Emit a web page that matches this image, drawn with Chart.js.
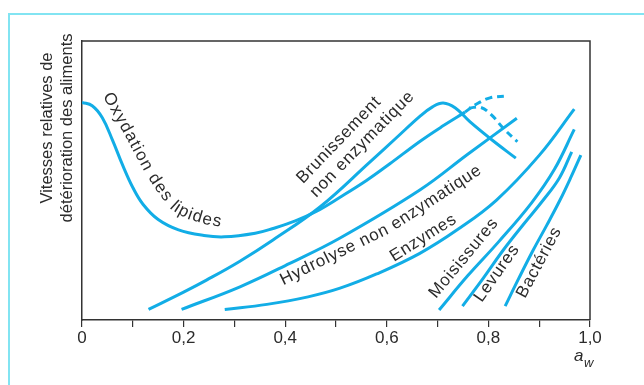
<!DOCTYPE html>
<html lang="fr">
<head>
<meta charset="utf-8">
<title>Vitesses relatives de détérioration des aliments</title>
<script src="https://cdn.jsdelivr.net/npm/chart.js@4/dist/chart.umd.min.js"></script>
<style>
  html, body { margin: 0; padding: 0; background: #fff; }
  canvas { display: block; }
</style>
</head>
<body>
<canvas id="myChart" width="644" height="385"></canvas>
<script>
// graduations de l'axe a_w
const tickLabels = ['0', '0,2', '0,4', '0,6', '0,8', '1,0'];
const yTitle = ['Vitesses relatives de', 'détérioration des aliments'];

// courbes (a_w, vitesse relative 0-100)
const awOxydation = [0, 0.02, 0.04, 0.06, 0.08, 0.10, 0.12, 0.15, 0.19, 0.24, 0.28, 0.341, 0.376, 0.42, 0.462, 0.508, 0.56, 0.606, 0.665, 0.71, 0.754];
const vOxydation  = [78, 76.8, 72.5, 64.5, 55.5, 47.5, 41.5, 36, 32.3, 30.3, 29.8, 31.1, 32.8, 35.5, 39, 44, 50, 56, 64, 69.5, 74.5];

const awOxydationHaut = [0.754, 0.774, 0.803, 0.836];
const vOxydationHaut  = [74.5, 77.1, 79.6, 80.3];

const awOxydationBas = [0.762, 0.785, 0.806, 0.83, 0.857];
const vOxydationBas  = [76, 76.2, 73.5, 68.6, 63.9];

const awBrunissement = [0.131, 0.2, 0.245, 0.31, 0.376, 0.469, 0.566, 0.62, 0.665, 0.69, 0.711, 0.735, 0.764, 0.806, 0.854];
const vBrunissement  = [3.8, 10, 14.3, 21, 28.7, 40.6, 56.5, 65.5, 73, 76.4, 77.8, 76, 71, 64.7, 58];

const awHydrolyse = [0.196, 0.311, 0.409, 0.508, 0.665, 0.76, 0.856];
const vHydrolyse  = [3.8, 11.9, 20.3, 29.4, 46.6, 59.5, 72.3];

const awEnzymes = [0.281, 0.364, 0.445, 0.508, 0.58, 0.665, 0.74, 0.816, 0.9, 0.969];
const vEnzymes  = [3.8, 5.6, 8.3, 11.4, 16.5, 23.9, 32.5, 43, 59, 75.6];

const awMoisissures = [0.703, 0.76, 0.82, 0.885, 0.93, 0.969];
const vMoisissures  = [3.6, 16, 28, 42, 54, 68.3];

const awLevures = [0.749, 0.79, 0.829, 0.87, 0.908, 0.94, 0.964];
const vLevures  = [5, 15, 25, 34.5, 43, 51, 60.3];

const awBacteries = [0.833, 0.86, 0.888, 0.915, 0.941, 0.962, 0.982];
const vBacteries  = [5, 15, 25, 34, 43, 51, 59.1];

const bleu = '#12ade6';
const texte = '#2b2b2b';
const police = '"Liberation Sans", Arial, sans-serif';

function pts(xs, ys) {
  return xs.map((x, i) => ({ x: x, y: ys[i] }));
}

function serie(label, xs, ys, tirets) {
  return {
    label: label,
    data: pts(xs, ys),
    showLine: true,
    borderColor: bleu,
    borderWidth: 3,
    borderDash: tirets ? [7, 5] : [],
    pointRadius: 0,
    fill: false,
    tension: 0.4
  };
}

// étiquettes des courbes : texte posé le long d'un chemin (coordonnées a_w / vitesse)
const etiquettes = [
  { text: 'Oxydation des lipides', espace: 1.2, path: [[0.041, 80.3], [0.085, 65.9], [0.124, 52.7], [0.150, 45.5], [0.175, 39.6], [0.205, 36.4], [0.244, 34.3], [0.287, 33.0]] },
  { text: 'Brunissement', espace: 0.8, path: [[0.435, 48.7], [0.632, 85.9]] },
  { text: 'non enzymatique', espace: 0.8, path: [[0.461, 43.7], [0.667, 82.1]] },
  { text: 'Hydrolyse non enzymatique', espace: 0.8, path: [[0.396, 12.5], [0.610, 31.5], [0.803, 54.5]] },
  { text: 'Enzymes', espace: 0.8, path: [[0.614, 20.8], [0.736, 34.8]] },
  { text: 'Moisissures', espace: 0.8, path: [[0.697, 7.5], [0.819, 34.4]] },
  { text: 'Levures', espace: 0.8, path: [[0.787, 6.1], [0.855, 23.7]] },
  { text: 'Bactéries', espace: 0.8, path: [[0.872, 7.5], [0.937, 29.7]] }
];

function texteSurChemin(c, txt, p, espace) {
  const seg = [];
  let total = 0;
  for (let i = 1; i < p.length; i++) {
    const dx = p[i][0] - p[i - 1][0], dy = p[i][1] - p[i - 1][1];
    const l = Math.hypot(dx, dy);
    seg.push({ x: p[i - 1][0], y: p[i - 1][1], dx: dx / l, dy: dy / l, l: l, s: total });
    total += l;
  }
  function at(s) {
    let k = seg.length - 1;
    for (let i = 0; i < seg.length; i++) {
      if (s <= seg[i].s + seg[i].l) { k = i; break; }
    }
    const g = seg[k], d = s - g.s;
    return { x: g.x + g.dx * d, y: g.y + g.dy * d };
  }
  let s = 0;
  for (const ch of txt) {
    const w = c.measureText(ch).width;
    // angle lissé sur une fenêtre pour éviter les cassures aux sommets
    const a0 = at(s - 4), a1 = at(s + w + 4);
    const q = at(s + w / 2);
    c.save();
    c.translate(q.x, q.y);
    c.rotate(Math.atan2(a1.y - a0.y, a1.x - a0.x));
    c.fillText(ch, -w / 2, 0);
    c.restore();
    s += w + espace;
  }
}

const decor = {
  id: 'decor',
  beforeDraw(chart) {
    const c = chart.ctx;
    c.save();
    c.fillStyle = '#fff';
    c.fillRect(0, 0, chart.width, chart.height);
    // cadre cyan de la figure
    c.strokeStyle = '#82e4f2';
    c.lineWidth = 2;
    c.beginPath();
    c.moveTo(9, chart.height);
    c.lineTo(9, 14);
    c.lineTo(chart.width, 14);
    c.stroke();
    c.restore();
  },
  afterDraw(chart) {
    const c = chart.ctx, a = chart.chartArea;
    const sx = chart.scales.x, sy = chart.scales.y;
    c.save();
    // haut et droite du cadre du graphique
    c.strokeStyle = '#333';
    c.lineWidth = 1.5;
    c.beginPath();
    c.moveTo(a.left, a.top);
    c.lineTo(a.right, a.top);
    c.lineTo(a.right, a.bottom);
    c.stroke();

    c.fillStyle = texte;
    // titre de l'axe vertical
    c.save();
    c.font = '16.5px ' + police;
    c.textAlign = 'center';
    c.textBaseline = 'middle';
    c.translate(47, 128);
    c.rotate(-Math.PI / 2);
    c.fillText(yTitle[0], 0, 0);
    c.fillText(yTitle[1], 0, 20);
    c.restore();

    // a_w
    c.textAlign = 'left';
    c.textBaseline = 'alphabetic';
    c.font = 'italic 17px ' + police;
    c.fillText('a', 574, 361);
    c.font = 'italic 13px ' + police;
    c.fillText('w', 584, 367);

    // étiquettes des courbes
    c.font = '17px ' + police;
    etiquettes.forEach(e => {
      const p = e.path.map(v => [sx.getPixelForValue(v[0]), sy.getPixelForValue(v[1])]);
      texteSurChemin(c, e.text, p, e.espace);
    });
    c.restore();
  }
};

var ctx = document.getElementById('myChart').getContext('2d');
var chart = new Chart(ctx, {
  type: 'scatter',
  data: {
    datasets: [
      serie('Oxydation des lipides', awOxydation, vOxydation, false),
      serie('Oxydation (suite)', awOxydationHaut, vOxydationHaut, true),
      serie('Oxydation (suite bas)', awOxydationBas, vOxydationBas, true),
      serie('Brunissement non enzymatique', awBrunissement, vBrunissement, false),
      serie('Hydrolyse non enzymatique', awHydrolyse, vHydrolyse, false),
      serie('Enzymes', awEnzymes, vEnzymes, false),
      serie('Moisissures', awMoisissures, vMoisissures, false),
      serie('Levures', awLevures, vLevures, false),
      serie('Bactéries', awBacteries, vBacteries, false)
    ]
  },
  options: {
    responsive: false,
    devicePixelRatio: 1,
    animation: false,
    layout: { padding: { top: 41, right: 54, left: 0, bottom: 0 } },
    plugins: {
      legend: { display: false },
      tooltip: { enabled: false }
    },
    scales: {
      x: {
        type: 'linear',
        min: 0,
        max: 1,
        afterFit(s) { s.height = 65; },
        ticks: {
          stepSize: 0.1,
          autoSkip: false,
          maxRotation: 0,
          padding: 1,
          color: texte,
          font: { size: 17, family: police },
          callback(v) {
            const i = Math.round(v * 10);
            return i % 2 === 0 ? tickLabels[i / 2] : '';
          }
        },
        grid: { drawOnChartArea: false, drawTicks: true, tickLength: 7, color: '#333', lineWidth: 1.2 },
        border: { display: true, color: '#333', width: 1.5 }
      },
      y: {
        type: 'linear',
        min: 0,
        max: 100,
        afterFit(s) { s.width = 82; },
        ticks: { display: false },
        grid: { display: false },
        border: { display: true, color: '#333', width: 1.5 }
      }
    }
  },
  plugins: [decor]
});
</script>
</body>
</html>
